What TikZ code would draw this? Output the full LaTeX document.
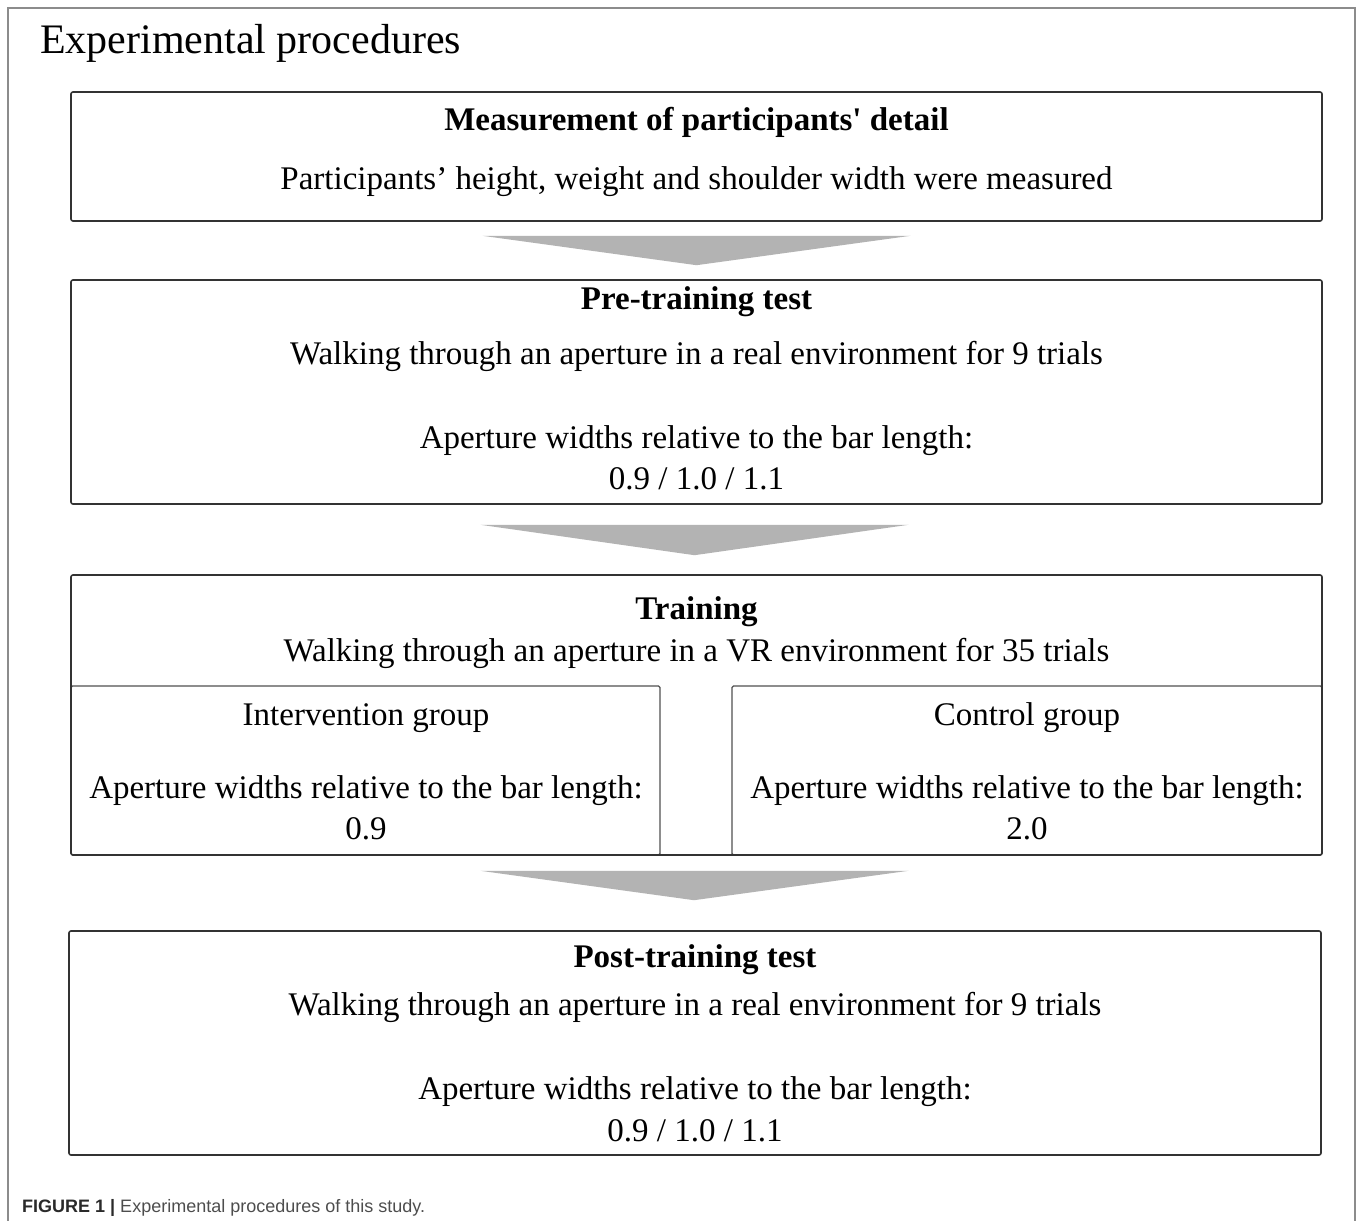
\documentclass[tikz,border=0pt]{standalone}
\usepackage{fontspec}
\setmainfont{Liberation Serif}
\newfontfamily\capfont{Liberation Sans}
\usetikzlibrary{calc}
\definecolor{boxline}{HTML}{333333}
\definecolor{subline}{HTML}{505050}
\definecolor{arrowgray}{HTML}{B3B3B3}
\definecolor{framegray}{HTML}{8C8C8C}
\definecolor{capbold}{HTML}{2A2A2A}
\definecolor{captext}{HTML}{4D4D4D}
\begin{document}
\begin{tikzpicture}[x=1pt,y=-1pt,
  box/.style={draw=boxline, line width=1.6pt, rounded corners=2pt, inner sep=0pt, fill=none},
  subbox/.style={draw=subline, line width=1.1pt, rounded corners=1.5pt, inner sep=0pt},
  txt/.style={font=\fontsize{33}{40}\selectfont, inner sep=0pt, anchor=base},
  head/.style={font=\fontsize{33}{40}\selectfont\bfseries, inner sep=0pt, anchor=base},
  chev/.style={fill=arrowgray, draw=none}]
\useasboundingbox (0,0) rectangle (1358,1221);
% outer frame
\draw[framegray, line width=1.5pt] (8,1221) -- (8,8) -- (1355,8) -- (1355,1221);
% title
\node[font=\fontsize{42}{50}\selectfont, inner sep=0pt, anchor=base west] (title) at (40,53) {Experimental procedures};
% boxes
\node[box, minimum width=1251pt, minimum height=129pt] (b1) at (696.5,156.5) {};
\node[box, minimum width=1251pt, minimum height=224pt] (b2) at (696.5,392) {};
\node[subbox, minimum width=589pt, minimum height=169pt] (sl) at (365.5,770.5) {};
\node[subbox, minimum width=590pt, minimum height=169pt] (sr) at (1027,770.5) {};
\node[box, minimum width=1251pt, minimum height=280pt] (b3) at (696.5,715) {};
\node[box, minimum width=1252pt, minimum height=224pt] (b4) at (695,1043) {};
% chevron connectors
\fill[chev] ($(b1.south)+(-214,14)$) -- ($(b1.south)+(214,14)$) -- ($(b2.north)+(0,-14)$) -- cycle;
\fill[chev] ($(b2.south)+(-216,20)$) -- ($(b2.south)+(212,20)$) -- ($(b3.north)+(-2,-19)$) -- cycle;
\fill[chev] ($(b3.south)+(-216,15)$) -- ($(b3.south)+(212,15)$) -- ($(b4.north)+(-1,-30)$) -- cycle;
% box 1 text
\node[head] (t1a) at (696.5,130) {Measurement of participants\textquotesingle{} detail};
\node[txt] (t1b) at (696.5,189) {Participants’ height, weight and shoulder width were measured};
% box 2 text
\node[head] (t2a) at (696.5,309) {Pre-training test};
\node[txt] (t2b) at (696.5,364) {Walking through an aperture in a real environment for 9 trials};
\node[txt] (t2c) at (696.5,448) {Aperture widths relative to the bar length:};
\node[txt] (t2d) at (696.5,489) {0.9 / 1.0 / 1.1};
% box 3 text
\node[head] (t3a) at (696.5,619) {Training};
\node[txt] (t3b) at (696.5,661) {Walking through an aperture in a VR environment for 35 trials};
\node[txt] (t3c) at (366,725) {Intervention group};
\node[txt] (t3d) at (366,798) {Aperture widths relative to the bar length:};
\node[txt] (t3e) at (366,839) {0.9};
\node[txt] (t3f) at (1027,725) {Control group};
\node[txt] (t3g) at (1027,798) {Aperture widths relative to the bar length:};
\node[txt] (t3h) at (1027,839) {2.0};
% box 4 text
\node[head] (t4a) at (695,967) {Post-training test};
\node[txt] (t4b) at (695,1015) {Walking through an aperture in a real environment for 9 trials};
\node[txt] (t4c) at (695,1099) {Aperture widths relative to the bar length:};
\node[txt] (t4d) at (695,1141) {0.9 / 1.0 / 1.1};
% caption
\node[font=\capfont\fontsize{18}{21}\selectfont, inner sep=0pt, anchor=base west] (cap) at (22,1212)
  {\textcolor{capbold}{\bfseries FIGURE 1 |} \textcolor{captext}{Experimental procedures of this study.}};
\end{tikzpicture}
\end{document}
